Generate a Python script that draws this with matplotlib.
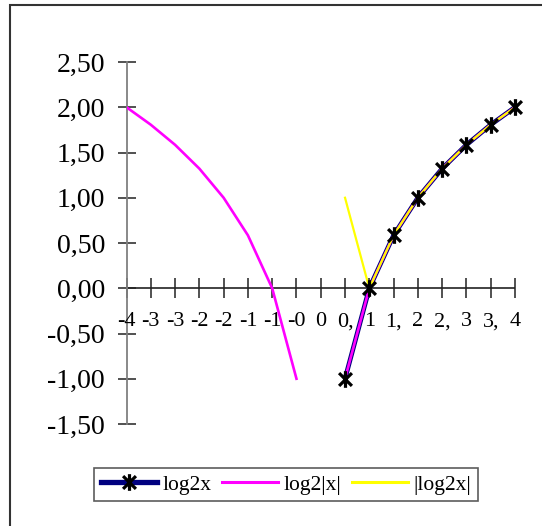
import numpy as np
import matplotlib
matplotlib.use('Agg')
import matplotlib.pyplot as plt
from matplotlib.path import Path
from matplotlib.lines import Line2D
from matplotlib.patches import Rectangle

plt.rcParams['font.family'] = ['Liberation Serif', 'DejaVu Serif']

# categories (x = -4 .. 4 step 0.5), labels as Excel truncated them
x_labels = ['-4', '-3', '-3', '-2', '-2', '-1', '-1', '-0', '0', '0,',
            '1', '1,', '2', '2,', '3', '3,', '4']
nan = np.nan
log2x = [nan, nan, nan, nan, nan, nan, nan, nan, nan,
         -1.0, 0.0, 0.585, 1.0, 1.322, 1.585, 1.807, 2.0]
log2abs = [2.0, 1.807, 1.585, 1.322, 1.0, 0.585, 0.0, -1.0, nan,
           -1.0, 0.0, 0.585, 1.0, 1.322, 1.585, 1.807, 2.0]
abslog2 = [nan, nan, nan, nan, nan, nan, nan, nan, nan,
           1.0, 0.0, 0.585, 1.0, 1.322, 1.585, 1.807, 2.0]
y_ticks = [-1.5, -1.0, -0.5, 0.0, 0.5, 1.0, 1.5, 2.0, 2.5]
y_labels = ['-1,50', '-1,00', '-0,50', '0,00', '0,50', '1,00', '1,50', '2,00', '2,50']

W, H = 542, 526
fig = plt.figure(figsize=(W/100, H/100), dpi=100)
ax = fig.add_axes([126.5/W, 1-424/H, (515-126.5)/W, (424-62)/H])

idx = np.arange(len(x_labels))
star = Path([(-1, -1), (1, 1), (-1, 1), (1, -1), (0, -1.3), (0, 1.3)],
            [Path.MOVETO, Path.LINETO, Path.MOVETO, Path.LINETO, Path.MOVETO, Path.LINETO])

ax.plot(idx, log2x, color='#000080', lw=3.4, zorder=3, solid_capstyle='butt')
ax.plot(idx, log2abs, color='#ff00ff', lw=1.9, zorder=4)
ax.plot(idx, abslog2, color='#ffff00', lw=1.6, zorder=5)
ax.plot(idx, log2x, ls='none', marker=star, ms=12, mew=2.3, mec='black',
        mfc='none', zorder=6, clip_on=False)

ax.set_xlim(0, len(x_labels)-1)
ax.set_ylim(-1.5, 2.5)

for s in ['top', 'right', 'bottom']:
    ax.spines[s].set_visible(False)
ax.spines['left'].set_color('#808080')
ax.spines['left'].set_linewidth(1.3)
ax.axhline(0, color='#222222', lw=1.2, zorder=2)

ax.set_yticks(y_ticks)
ax.set_yticklabels(y_labels, fontsize=20)
ax.tick_params(axis='y', direction='inout', length=13, width=1.1, color='#222222', pad=9)

# category ticks on the zero line
ax.set_xticks([])
for i, lab in enumerate(x_labels):
    ax.plot([i], [0], marker='|', ms=15, mew=1.1, color='#222222', zorder=2, clip_on=False)
    ax.annotate(lab, xy=(i, 0), xycoords='data', xytext=(0, -31), textcoords='offset points',
                ha='center', va='bottom', fontsize=16)

handles = [Line2D([], [], color='#000080', lw=3.8, marker=star, ms=12, mew=2.3,
                  mec='black', mfc='none'),
           Line2D([], [], color='#ff00ff', lw=2.2),
           Line2D([], [], color='#ffff00', lw=2.2)]
leg = fig.legend(handles, ['log2x', 'log2|x|', '|log2x|'], loc='center',
                 bbox_to_anchor=(286/W, 1-484.5/H), ncol=3, fontsize=15.5,
                 frameon=True, fancybox=False, handlelength=2.6, handletextpad=0.25,
                 columnspacing=0.5, borderpad=0.3, borderaxespad=0)
leg.get_frame().set_edgecolor('#333333')
leg.get_frame().set_linewidth(1.2)

# outer chart border (cropped on right and bottom)
fig.patches.append(Rectangle((10/W, -0.1), 1.2, 1-5/H+0.1, transform=fig.transFigure,
                             fill=False, edgecolor='#333333', lw=1.5))

fig.savefig('out.png', dpi=100)
